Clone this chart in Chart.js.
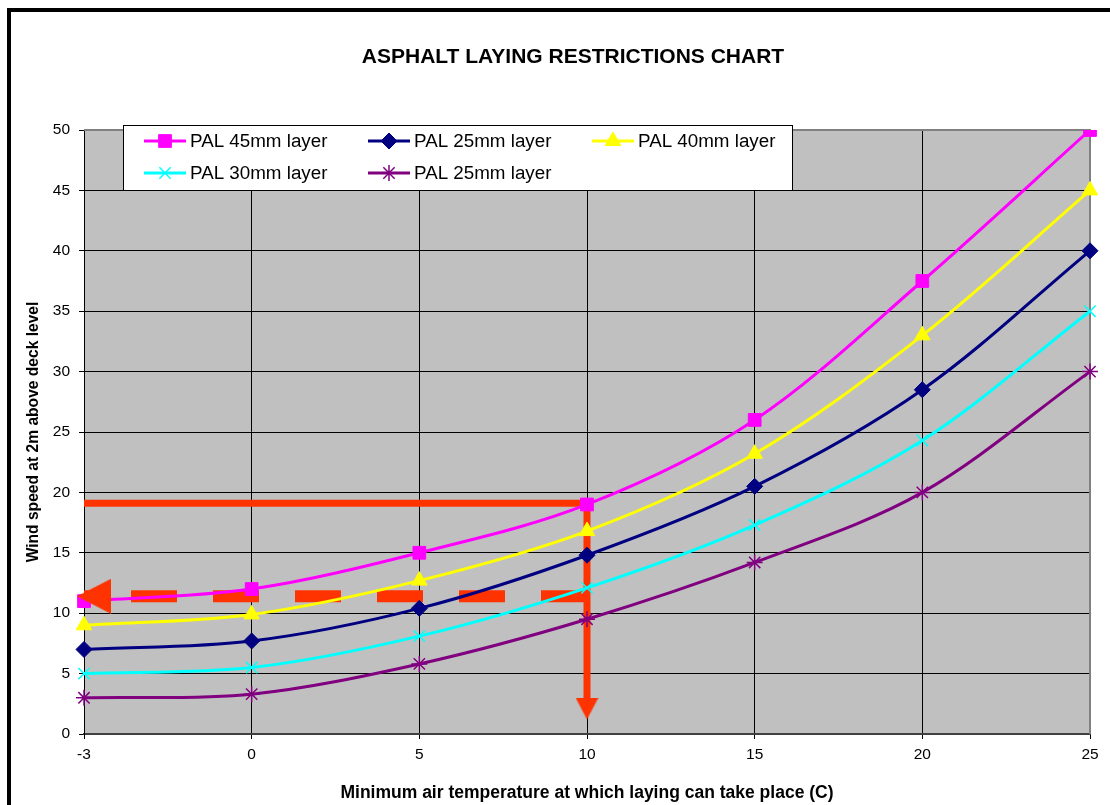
<!DOCTYPE html>
<html>
  <head>
    <title>Asphalt Laying Restrictions Chart</title>
    <style>
      body {
        margin: 0;
        padding: 0;
        background: #fff;
      }

      #chart-container {
        width: 1110px;
        height: 805px;
      }
    </style>
  </head>
  <body>
    <div id="chart-container">
      <canvas id="asphalt-chart" width="1110" height="805"></canvas>
    </div>

    <script src="https://cdn.jsdelivr.net/npm/chart.js"></script>
    <script>
      // Minimum air temperature (C) - plotted as equally spaced categories
      const temperatures = ["-3", "0", "5", "10", "15", "20", "25"];

      // Wind speed at 2m above deck level, per layer
      const pal45 = [11, 12, 15, 19, 26, 37.5, 50];
      const pal25 = [7, 7.7, 10.4, 14.8, 20.5, 28.5, 40];
      const pal40 = [9, 9.9, 12.7, 16.8, 23.2, 33, 45];
      const pal30 = [5, 5.5, 8.1, 12.1, 17.3, 24.3, 35];
      const pal25Lower = [3, 3.3, 5.8, 9.5, 14.2, 20, 30];

      const windMin = 0;
      const windMax = 50;
      const windStep = 5;

      // Red worked-example lines drawn over the chart
      const exampleSolid = [
        { x: "-3", y: 19.1 },
        { x: "10", y: 19.1 },
        { x: "10", y: 2.5 },
      ];
      const exampleDashed = [
        { x: "10", y: 11.4 },
        { x: "-3", y: 11.4 },
      ];
      const exampleArrowTips = [
        { x: "-3", y: 11.4 },
        { x: "10", y: 1.2 },
      ];

      const FONT = "'Liberation Sans', Arial, sans-serif";
      const RED = "#ff3300";

      // arrow head image pointing up; the tip sits at the centre (or
      // "over" px past it) so the data point marks the tip
      function makeArrow(len, width, color, over) {
        const c = document.createElement("canvas");
        c.width = Math.ceil(width);
        c.height = Math.ceil(len * 2);
        const g = c.getContext("2d");
        g.fillStyle = color;
        g.beginPath();
        g.moveTo(width / 2, len - over);
        g.lineTo(width, len * 2 - over);
        g.lineTo(0, len * 2 - over);
        g.closePath();
        g.fill();
        return c;
      }

      function series(label, data, color, pointStyle, radius) {
        return {
          label: label,
          data: data,
          borderColor: color,
          backgroundColor: color,
          pointBackgroundColor: color,
          pointBorderColor: color,
          pointStyle: pointStyle,
          pointRadius: radius,
          pointBorderWidth: pointStyle === "crossRot" || pointStyle === "star" ? 1.5 : 1,
          borderWidth: 3,
          tension: 0.33,
          inLegend: true,
          order: 1,
        };
      }

      const plotFrame = {
        id: "plotFrame",
        beforeDraw(chart) {
          const ctx = chart.ctx;
          const a = chart.chartArea;
          ctx.save();
          ctx.fillStyle = "#fff";
          ctx.fillRect(0, 0, chart.width, chart.height);
          ctx.strokeStyle = "#000";
          ctx.lineWidth = 4;
          ctx.strokeRect(9, 10, chart.width + 20, chart.height + 20);
          ctx.fillStyle = "#c0c0c0";
          ctx.fillRect(a.left, a.top, a.right - a.left, a.bottom - a.top);
          ctx.restore();
        },
        beforeDatasetsDraw(chart) {
          const ctx = chart.ctx;
          const a = chart.chartArea;
          ctx.save();
          ctx.strokeStyle = "#808080";
          ctx.lineWidth = 2;
          ctx.beginPath();
          ctx.moveTo(a.left, a.top);
          ctx.lineTo(a.right, a.top);
          ctx.lineTo(a.right, a.bottom);
          ctx.stroke();
          ctx.restore();
        },
      };

      // Excel style legend box sitting inside the plot area
      const boxLegend = {
        id: "boxLegend",
        afterDraw(chart) {
          const ctx = chart.ctx;
          const a = chart.chartArea;
          const left = a.left + 39;
          const top = a.top - 5;
          const width = 670;
          const height = 66;
          ctx.save();
          ctx.fillStyle = "#fff";
          ctx.fillRect(left, top, width, height);
          ctx.strokeStyle = "#000";
          ctx.lineWidth = 1;
          ctx.strokeRect(left + 0.5, top + 0.5, width - 1, height - 1);
          ctx.font = "18.8px " + FONT;
          ctx.textBaseline = "middle";

          const items = chart.data.datasets.filter((d) => d.inLegend);
          items.forEach((ds, i) => {
            const x = left + 21 + (i % 3) * 224;
            const y = top + 16 + Math.floor(i / 3) * 32;
            ctx.strokeStyle = ds.borderColor;
            ctx.fillStyle = ds.borderColor;
            ctx.lineWidth = 3;
            ctx.beginPath();
            ctx.moveTo(x, y);
            ctx.lineTo(x + 42, y);
            ctx.stroke();
            ctx.lineWidth = ds.pointBorderWidth;
            Chart.helpers.drawPoint(
              ctx,
              {
                pointStyle: ds.pointStyle,
                rotation: 0,
                radius: ds.pointRadius,
                borderWidth: ds.pointBorderWidth,
              },
              x + 21,
              y
            );
            ctx.fillStyle = "#000";
            ctx.fillText(ds.label, x + 46, y + 1);
          });
          ctx.restore();
        },
      };

      const ctx = document.getElementById("asphalt-chart").getContext("2d");

      const chart = new Chart(ctx, {
        type: "line",
        data: {
          labels: temperatures,
          datasets: [
            series("PAL 45mm layer", pal45, "#ff00ff", "rect", 9),
            series("PAL 25mm layer", pal25, "#000080", "rectRot", 8),
            series("PAL 40mm layer", pal40, "#ffff00", "triangle", 9),
            series("PAL 30mm layer", pal30, "#00ffff", "crossRot", 8),
            series("PAL 25mm layer", pal25Lower, "#800080", "star", 8),
            {
              label: "example",
              data: exampleSolid,
              borderColor: RED,
              borderWidth: 7,
              borderJoinStyle: "miter",
              pointRadius: 0,
              tension: 0,
              order: 5,
            },
            {
              label: "example dashed",
              data: exampleDashed,
              borderColor: RED,
              borderWidth: 12,
              borderDash: [46, 36],
              borderCapStyle: "butt",
              pointRadius: 0,
              tension: 0,
              order: 5,
            },
            {
              label: "arrows",
              data: exampleArrowTips,
              showLine: false,
              pointStyle: [makeArrow(34, 35, RED, 7), makeArrow(22, 23, RED, 0)],
              pointRotation: [270, 180],
              pointRadius: 10,
              pointBorderWidth: 0,
              order: 0,
            },
          ],
        },
        options: {
          responsive: false,
          animation: false,
          layout: {
            padding: { left: 36, right: 0, top: 0, bottom: 0 },
          },
          plugins: {
            legend: { display: false },
            tooltip: { enabled: false },
            title: {
              display: true,
              text: "ASPHALT LAYING RESTRICTIONS CHART",
              color: "#000",
              font: { family: FONT, size: 21, weight: "bold", lineHeight: 1.2 },
              padding: { top: 44.4, bottom: 60.4 },
            },
          },
          scales: {
            x: {
              type: "category",
              offset: false,
              grid: {
                color: "#000",
                lineWidth: 1,
                drawTicks: true,
                tickLength: 5,
                tickColor: "#000",
              },
              border: { display: true, color: "#404040", width: 2 },
              ticks: {
                color: "#000",
                font: { family: FONT, size: 15.5 },
                padding: 6,
                maxRotation: 0,
                autoSkip: false,
              },
              title: {
                display: true,
                text: "Minimum air temperature at which laying can take place (C)",
                color: "#000",
                font: { family: FONT, size: 17.5, weight: "bold", lineHeight: 1.2 },
                padding: { top: 0, bottom: 1.8 },
              },
              afterFit(scale) {
                scale.height = 71;
              },
            },
            y: {
              min: windMin,
              max: windMax,
              grid: {
                color: "#000",
                lineWidth: 1,
                drawTicks: true,
                tickLength: 5,
                tickColor: "#000",
              },
              border: { display: true, color: "#000", width: 1 },
              ticks: {
                stepSize: windStep,
                color: "#000",
                font: { family: FONT, size: 15.5 },
                padding: 9,
              },
              title: {
                display: true,
                text: "Wind speed at 2m above deck level",
                color: "#000",
                font: { family: FONT, size: 15.6, weight: "bold", lineHeight: 1.2 },
                padding: { top: -11.4, bottom: 0 },
              },
              afterFit(scale) {
                scale.width = 48;
              },
            },
            // empty right-hand axis that only reserves the right margin
            yRight: {
              position: "right",
              display: true,
              grid: { display: false },
              border: { display: false },
              ticks: { display: false },
              afterFit(scale) {
                scale.width = 20;
              },
            },
          },
        },
        plugins: [plotFrame, boxLegend],
      });
    </script>
  </body>
</html>
